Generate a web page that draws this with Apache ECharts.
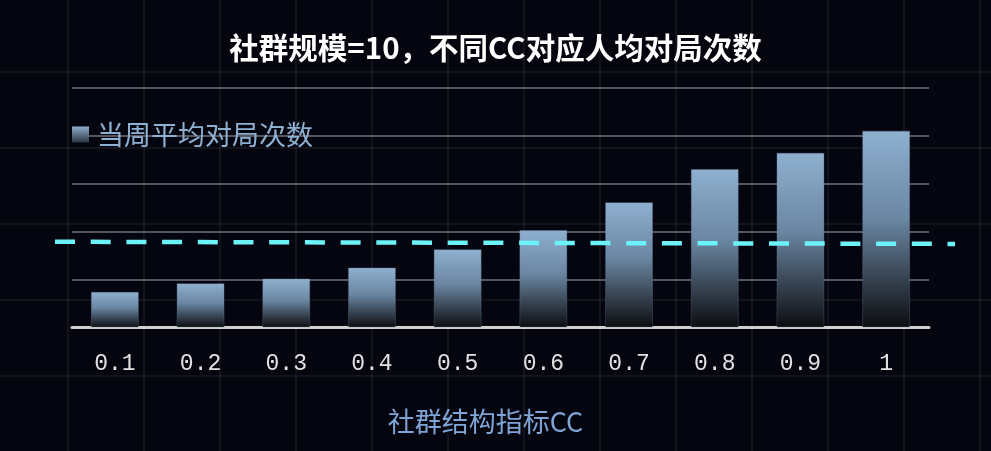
<!DOCTYPE html>
<html>
<head>
<meta charset="utf-8">
<script src="https://cdn.jsdelivr.net/npm/echarts@6/dist/echarts.min.js"></script>
<style>
  html, body { margin: 0; padding: 0; }
  body {
    width: 991px; height: 451px; overflow: hidden;
    background-color: #05050f;
    background-image:
      linear-gradient(to right, rgba(255,255,255,0.055) 2px, transparent 2px),
      linear-gradient(to bottom, rgba(255,255,255,0.055) 2px, transparent 2px);
    background-size: 76px 76px;
    background-position: 67px 71px;
  }
  #chart { width: 991px; height: 451px; }
</style>
</head>
<body>
<div id="chart"></div>
<script>
// ---- data ----
const categories = ['0.1', '0.2', '0.3', '0.4', '0.5', '0.6', '0.7', '0.8', '0.9', '1'];
const avgGames = [1.49, 1.85, 2.05, 2.51, 3.27, 4.07, 5.23, 6.62, 7.30, 8.22];
const refLine = [3.58, 3.49];
const refLineX = ['start', 'end'];
const titleText = '社群规模=10，不同CC对应人均对局次数';
const seriesName = '当周平均对局次数';
const xAxisName = '社群结构指标CC';

const chart = echarts.init(document.getElementById('chart'), null, { renderer: 'canvas' });
const cjk = '"Noto Sans CJK SC", "Noto Sans", sans-serif';
const barGradient = new echarts.graphic.LinearGradient(0, 0, 0, 1, [
  { offset: 0, color: '#8fb0d0' },
  { offset: 0.45, color: '#6a86a2' },
  { offset: 1, color: '#0c0c0f' }
]);
const legendGradient = new echarts.graphic.LinearGradient(0, 0, 0, 1, [
  { offset: 0, color: '#8fb0d0' },
  { offset: 1, color: '#2a3440' }
]);

chart.setOption({
  animation: false,
  backgroundColor: 'transparent',
  title: {
    text: titleText,
    left: 'center',
    top: 28,
    textStyle: { color: '#ffffff', fontSize: 29.5, fontWeight: 'bold', fontFamily: cjk }
  },
  legend: {
    data: [{ name: seriesName, icon: 'rect', itemStyle: { color: legendGradient, borderWidth: 0 } }],
    left: 67,
    top: 116,
    itemWidth: 17,
    itemHeight: 16,
    itemGap: 8,
    textStyle: { color: '#8fb1d1', fontSize: 27, fontFamily: cjk, padding: [0, 0, 0, 3] }
  },
  grid: [
    { left: 72, right: 62, top: 88, bottom: 123.5 },
    { left: 55, right: 36, top: 88, bottom: 123.5 }
  ],
  xAxis: [
    {
      type: 'category',
      gridIndex: 0,
      data: categories,
      axisLine: { lineStyle: { color: '#cfcfcf', width: 3 } },
      axisTick: { show: false },
      axisLabel: {
        color: '#e2e2e2', fontSize: 23, margin: 25,
        fontFamily: '"Liberation Mono", monospace'
      },
      name: xAxisName,
      nameLocation: 'middle',
      nameGap: 81,
      nameTextStyle: {
        color: '#7fa4d6', fontSize: 27, fontFamily: cjk,
        padding: [0, 30, 0, 0]
      }
    },
    {
      type: 'category',
      gridIndex: 1,
      data: refLineX,
      boundaryGap: false,
      show: false
    }
  ],
  yAxis: [
    {
      type: 'value', gridIndex: 0, min: 0, max: 10, interval: 2,
      axisLabel: { show: false },
      axisLine: { show: false },
      axisTick: { show: false },
      splitLine: { lineStyle: { color: '#55555f', width: 2 } }
    },
    {
      type: 'value', gridIndex: 1, min: 0, max: 10, interval: 2,
      show: false,
      splitLine: { show: false }
    }
  ],
  series: [
    {
      name: seriesName,
      type: 'bar',
      xAxisIndex: 0,
      yAxisIndex: 0,
      data: avgGames,
      barWidth: 48,
      itemStyle: {
        color: barGradient,
        borderColor: 'rgba(110,130,155,0.3)',
        borderWidth: 1
      }
    },
    {
      name: 'ref',
      type: 'line',
      xAxisIndex: 1,
      yAxisIndex: 1,
      data: refLine,
      symbol: 'none',
      silent: true,
      lineStyle: { color: '#6cf3f9', width: 4.5, type: [20, 15.7] },
      z: 5
    }
  ]
});
</script>
</body>
</html>
